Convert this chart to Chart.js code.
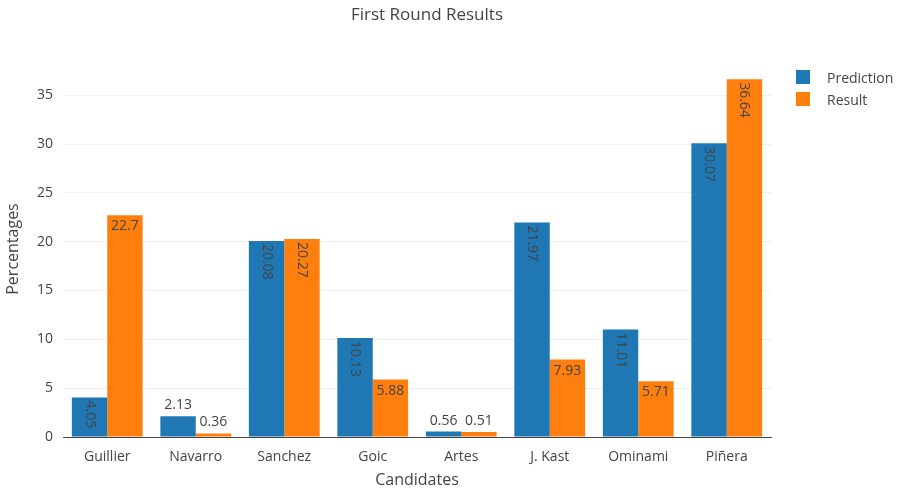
<!DOCTYPE html>
<html>
<head>
<meta charset="utf-8">
<title>First Round Results</title>
<script src="https://cdn.jsdelivr.net/npm/chart.js@4.4.1/dist/chart.umd.min.js"></script>
<style>
  body { margin: 0; background: #fff; }
  #wrap { position: relative; width: 902px; height: 494px; }
  #heading { position: absolute; left: 277px; width: 300px; top: 3px; text-align: center;
             font: 17px 'Open Sans', sans-serif; color: #444; line-height: 22px; }
  #legend { position: absolute; left: 796px; top: 66px; font: 14px 'Open Sans', sans-serif; color: #444; }
  #legend .item { height: 22px; display: flex; align-items: center; }
  #legend .box { width: 14px; height: 14px; margin-right: 17px; }
</style>
</head>
<body>
<div id="wrap">
  <canvas id="results" width="902" height="494"></canvas>
  <div id="heading"></div>
  <div id="legend"></div>
</div>
<script>
const chartTitle = 'First Round Results';
const candidates = ['Guillier', 'Navarro', 'Sanchez', 'Goic', 'Artes', 'J. Kast', 'Ominami', 'Piñera'];
const prediction = [4.05, 2.13, 20.08, 10.13, 0.56, 21.97, 11.01, 30.07];
const result = [22.7, 0.36, 20.27, 5.88, 0.51, 7.93, 5.71, 36.64];
const seriesNames = ['Prediction', 'Result'];
const colors = ['#1f77b4', '#ff7f0e'];

Chart.defaults.font.family = "'Open Sans', sans-serif";
Chart.defaults.color = '#444';

// value labels: inside the bar top if they fit (flat or turned), else above it
const barText = {
  id: 'barText',
  afterDatasetsDraw(chart) {
    const ctx = chart.ctx;
    const size = 14, pad = 3;
    ctx.save();
    ctx.font = size + "px 'Open Sans', sans-serif";
    ctx.fillStyle = '#444';
    chart.data.datasets.forEach((ds, i) => {
      chart.getDatasetMeta(i).data.forEach((bar, j) => {
        const txt = String(ds.data[j]);
        const tw = ctx.measureText(txt).width;
        const bw = bar.width;
        const bh = bar.base - bar.y;
        if (tw + 2 * pad <= bw && bh >= 3 * size) {
          ctx.textAlign = 'center';
          ctx.textBaseline = 'middle';
          ctx.fillText(txt, bar.x, bar.y + pad + size / 2 + 1);
        } else if (tw + 2 * pad <= bh && size + 2 * pad <= bw) {
          ctx.save();
          ctx.translate(bar.x, bar.y + pad);
          ctx.rotate(Math.PI / 2);
          ctx.textAlign = 'left';
          ctx.textBaseline = 'middle';
          ctx.fillText(txt, 0, 0);
          ctx.restore();
        } else {
          ctx.textAlign = 'center';
          ctx.textBaseline = 'alphabetic';
          ctx.fillText(txt, bar.x, bar.y - 7);
        }
      });
    });
    ctx.restore();
  }
};

new Chart(document.getElementById('results'), {
  type: 'bar',
  data: {
    labels: candidates,
    datasets: [
      { label: seriesNames[0], data: prediction, backgroundColor: colors[0] },
      { label: seriesNames[1], data: result, backgroundColor: colors[1] }
    ]
  },
  options: {
    responsive: false,
    animation: false,
    layout: { padding: { left: 0, right: 131, top: 61, bottom: 0 } },
    datasets: { bar: { categoryPercentage: 0.8, barPercentage: 1.0 } },
    scales: {
      x: {
        grid: { display: false },
        border: { color: '#444', width: 1 },
        ticks: { font: { size: 14 }, padding: 4 },
        title: { display: true, text: 'Candidates', font: { size: 16 }, padding: { top: 4, bottom: 4 } },
        afterFit(scale) { scale.height = 57; }
      },
      y: {
        min: 0,
        max: 38.5,
        grid: { color: '#eee', drawTicks: false },
        border: { display: false },
        ticks: { stepSize: 5, font: { size: 14 }, padding: 10 },
        title: { display: true, text: 'Percentages', font: { size: 16 }, padding: { top: 4, bottom: 4 } },
        afterBuildTicks(scale) { scale.ticks = scale.ticks.filter(t => t.value % 5 === 0); },
        afterFit(scale) { scale.width = 63; }
      }
    },
    plugins: {
      legend: { display: false },
      tooltip: { enabled: false },
      title: { display: false }
    }
  },
  plugins: [barText]
});

document.getElementById('heading').textContent = chartTitle;

// legend list beside the plot
const legend = document.getElementById('legend');
seriesNames.forEach((name, i) => {
  const item = document.createElement('div');
  item.className = 'item';
  const box = document.createElement('span');
  box.className = 'box';
  box.style.background = colors[i];
  item.appendChild(box);
  item.appendChild(document.createTextNode(name));
  legend.appendChild(item);
});
</script>
</body>
</html>
